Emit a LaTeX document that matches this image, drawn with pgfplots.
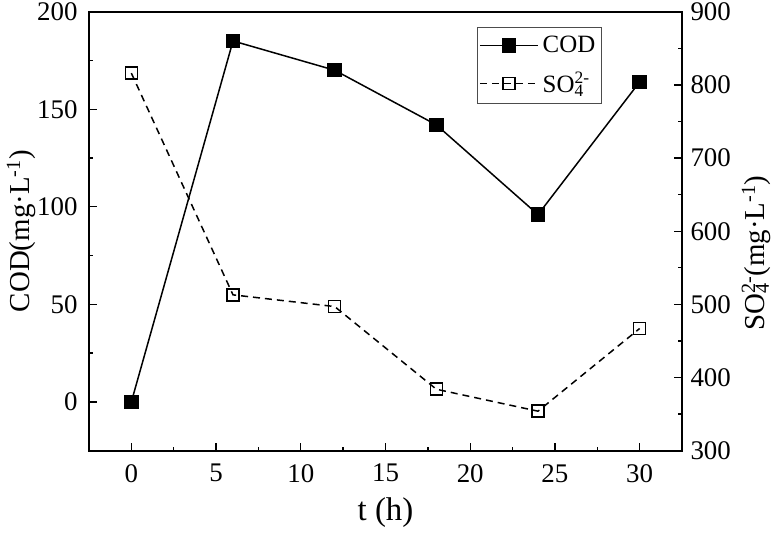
\documentclass[border=0pt]{standalone}
\usepackage{fontspec}
\setmainfont{Liberation Serif}
\usepackage{pgfplots}
\pgfplotsset{compat=1.18}

\pgfplotsset{
  common/.style={
    scale only axis,
    width=593bp, height=439bp,
    xmin=-2.5, xmax=32.5,
    tick align=inside,
    major tick length=8bp,
    minor tick length=4bp,
    every tick/.style={black, line width=1.3bp},
    axis line style={line width=1.8bp},
    tick label style={font=\fontsize{27}{30}\selectfont},
    label style={font=\fontsize{29}{32}\selectfont},
    /pgf/number format/assume math mode=true,
  },
  leg/.style={
    legend image code/.code={
      \draw[mark repeat=2,mark phase=2,##1] plot coordinates {(0bp,0bp)(29bp,0bp)(58bp,0bp)};
    },
  },
}

\begin{document}
\begin{tikzpicture}
% COD, left axis
\begin{axis}[
  common,
  ymin=-25, ymax=200,
  ytick={0,50,100,150,200},
  minor y tick num=1,
  xtick={0,5,...,30},
  minor x tick num=1,
  xtick pos=bottom,
  ytick pos=left,
  xticklabel style={yshift=-10bp},
  yticklabel style={xshift=-8bp},
  xlabel={t (h)},
  xlabel style={font=\fontsize{33}{36}\selectfont,
    at={(axis description cs:0.5,0)}, anchor=center, yshift=-62bp},
  ylabel={COD(mg·L\textsuperscript{-1})},
  ylabel style={at={(axis description cs:0,0.5)}, anchor=center, yshift=68bp},
]
\addplot[black, line width=1.5bp, mark=square*, mark size=6.5bp,
  mark options={solid}] coordinates {
  (0,0) (6,185) (12,170) (18,142) (24,96) (30,164)
};
\end{axis}
% SO4, right axis
\begin{axis}[
  common,
  leg,
  axis x line=none,
  axis y line*=right,
  ymin=300, ymax=900,
  ytick={300,400,...,900},
  minor y tick num=1,
  yticklabel style={xshift=5bp},
  ylabel={SO\rlap{\textsubscript{4}}\textsuperscript{2-}(mg·L\textsuperscript{-1})},
  ylabel style={at={(axis description cs:1,0.45)}, anchor=center, yshift=-74bp},
  legend style={
    at={(0.654,0.965)}, anchor=north west,
    draw=black!70, line width=0.8bp,
    font=\fontsize{25}{28}\selectfont,
    row sep=14bp,
    inner xsep=2bp, inner ysep=7bp,
    nodes={inner xsep=4bp},
  },
  legend cell align=left,
]
\addlegendimage{black, line width=1.5bp, mark=square*, mark size=6.5bp, mark options={solid}}
\addlegendentry{COD}
\addplot[black, line width=1.5bp, dash pattern=on 7bp off 5bp,
  mark=square, mark size=6bp, mark options={solid, fill=white}] coordinates {
  (0,816) (6,513) (12,497) (18,384) (24,354) (30,467)
};
\addlegendentry{SO\rlap{\textsubscript{4}}\textsuperscript{2-}}
\end{axis}
\pgfresetboundingbox
\path ([xshift=-89bp,yshift=-82.3bp]current axis.south west)
  rectangle ([xshift=92bp,yshift=11.7bp]current axis.north east);
\end{tikzpicture}
\end{document}
